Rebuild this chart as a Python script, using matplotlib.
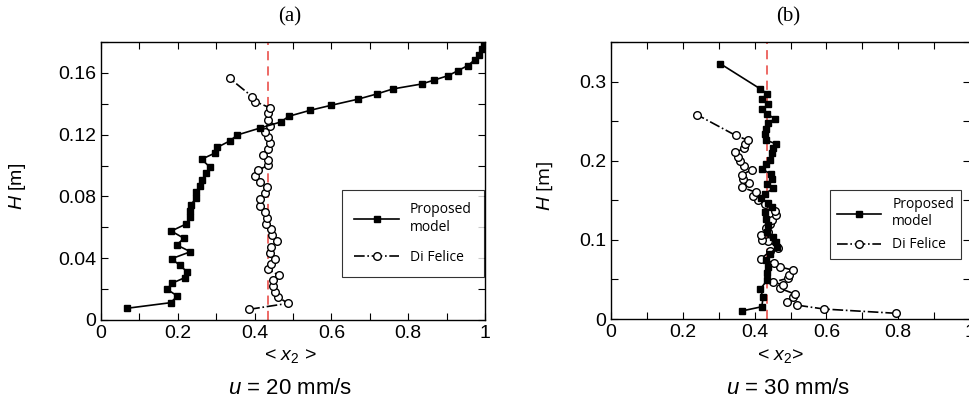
import matplotlib
matplotlib.use("Agg")
import matplotlib.pyplot as plt
from matplotlib import font_manager
import numpy as np

# panel (a): u = 20 mm/s
a_model_x = [0.068, 0.181, 0.199, 0.172, 0.185, 0.218, 0.224, 0.205, 0.184, 0.233, 0.197, 0.216,
             0.183, 0.222, 0.231, 0.233, 0.234, 0.248, 0.247, 0.257, 0.263, 0.274, 0.283, 0.262,
             0.296, 0.303, 0.335, 0.355, 0.413, 0.468, 0.489, 0.545, 0.599, 0.668, 0.719, 0.760,
             0.835, 0.868, 0.904, 0.930, 0.955, 0.973, 0.985, 0.993, 0.997]
a_model_h = [0.0076, 0.0112, 0.0155, 0.0199, 0.0238, 0.0274, 0.0313, 0.0354, 0.0397, 0.0442,
             0.0486, 0.0529, 0.0576, 0.0622, 0.0667, 0.0706, 0.0747, 0.0790, 0.0829, 0.0868,
             0.0907, 0.0954, 0.0991, 0.1041, 0.1080, 0.1118, 0.1159, 0.1198, 0.1242, 0.1282,
             0.1319, 0.1358, 0.1390, 0.1429, 0.1464, 0.1496, 0.1528, 0.1554, 0.1582, 0.1615,
             0.1647, 0.1684, 0.1716, 0.1755, 0.1786]
a_felice_x = [0.386, 0.487, 0.462, 0.453, 0.449, 0.447, 0.463, 0.436, 0.442, 0.453, 0.439, 0.444,
              0.459, 0.446, 0.442, 0.430, 0.431, 0.426, 0.415, 0.413, 0.428, 0.433, 0.413, 0.401,
              0.409, 0.436, 0.435, 0.421, 0.435, 0.439, 0.436, 0.426, 0.441, 0.436, 0.436, 0.439,
              0.402, 0.394, 0.335]
a_felice_h = [0.0069, 0.0108, 0.0147, 0.0179, 0.0220, 0.0259, 0.0289, 0.0328, 0.0365, 0.0397,
              0.0436, 0.0475, 0.0510, 0.0551, 0.0587, 0.0624, 0.0663, 0.0699, 0.0740, 0.0782,
              0.0820, 0.0859, 0.0896, 0.0935, 0.0971, 0.1002, 0.1036, 0.1069, 0.1110, 0.1149,
              0.1183, 0.1220, 0.1258, 0.1295, 0.1339, 0.1375, 0.1414, 0.1446, 0.1565]

# panel (b): u = 30 mm/s
b_model_x = [0.364, 0.420, 0.424, 0.415, 0.435, 0.434, 0.438, 0.432, 0.443, 0.463, 0.460, 0.450,
             0.435, 0.438, 0.432, 0.429, 0.448, 0.438, 0.418, 0.429, 0.452, 0.434, 0.448, 0.445,
             0.420, 0.432, 0.443, 0.448, 0.452, 0.461, 0.432, 0.429, 0.432, 0.436, 0.457, 0.435,
             0.422, 0.438, 0.422, 0.435, 0.415, 0.305]
b_model_h = [0.0101, 0.0155, 0.0281, 0.0373, 0.0491, 0.0575, 0.0658, 0.0742, 0.0826, 0.0909,
             0.0972, 0.1035, 0.1098, 0.1182, 0.1266, 0.1350, 0.1413, 0.1463, 0.1526, 0.1581,
             0.1652, 0.1707, 0.1770, 0.1833, 0.1895, 0.1958, 0.2009, 0.2092, 0.2160, 0.2210,
             0.2260, 0.2336, 0.2399, 0.2482, 0.2524, 0.2595, 0.2650, 0.2713, 0.2784, 0.2847,
             0.2910, 0.3224]
b_felice_x = [0.794, 0.593, 0.517, 0.490, 0.508, 0.513, 0.471, 0.480, 0.452, 0.492, 0.496, 0.508,
              0.471, 0.455, 0.418, 0.443, 0.464, 0.438, 0.420, 0.418, 0.436, 0.431, 0.443, 0.448,
              0.459, 0.457, 0.429, 0.410, 0.396, 0.405, 0.364, 0.384, 0.367, 0.364, 0.392, 0.371,
              0.359, 0.353, 0.345, 0.371, 0.373, 0.381, 0.347, 0.240]
b_felice_h = [0.0072, 0.0126, 0.0176, 0.0218, 0.0273, 0.0314, 0.0386, 0.0428, 0.0469, 0.0512,
              0.0562, 0.0616, 0.0658, 0.0708, 0.0763, 0.0855, 0.0897, 0.0990, 0.1003, 0.1057,
              0.1098, 0.1153, 0.1204, 0.1254, 0.1308, 0.1362, 0.1455, 0.1506, 0.1560, 0.1600,
              0.1664, 0.1715, 0.1770, 0.1824, 0.1883, 0.1937, 0.1991, 0.2050, 0.2105, 0.2155,
              0.2210, 0.2260, 0.2320, 0.2580]

mean_x2 = 0.434

names = {f.name for f in font_manager.fontManager.ttflist}
narrow = "Liberation Sans Narrow" if "Liberation Sans Narrow" in names else "Liberation Sans"
plt.rcParams["font.family"] = ["Liberation Sans", "DejaVu Sans"]
plt.rcParams["mathtext.fontset"] = "custom"
plt.rcParams["mathtext.it"] = narrow + ":italic"
plt.rcParams["mathtext.rm"] = narrow

fig = plt.figure(figsize=(9.69, 4.08), dpi=100)
ax_a = fig.add_axes([101 / 969, 1 - 320 / 408, 384 / 969, 278 / 408])
ax_b = fig.add_axes([611 / 969, 1 - 319 / 408, 359 / 969, 277 / 408])


def style_axes(ax, ymax, ystep, yminor, tick_font):
    ax.set_xlim(0, 1)
    ax.set_ylim(0, ymax)
    ax.set_xticks(np.arange(0, 1.01, 0.2))
    ax.set_xticks(np.arange(0, 1.01, 0.1), minor=True)
    ax.set_yticks(np.arange(0, ymax + 1e-9, ystep))
    ax.set_yticks(np.arange(0, ymax + 1e-9, yminor), minor=True)
    ax.set_xticklabels([f"{v:g}" for v in np.arange(0, 1.01, 0.2)])
    ax.set_yticklabels([f"{v:g}" for v in np.arange(0, ymax + 1e-9, ystep)])
    ax.tick_params(which="both", direction="in", top=True, right=True, length=5, width=0.8)
    for lab in ax.get_xticklabels() + ax.get_yticklabels():
        lab.set_family(tick_font)
        lab.set_fontsize(14)
    for sp in ax.spines.values():
        sp.set_linewidth(1.0)


def draw(ax, mx, mh, fx, fh):
    ax.axvline(mean_x2, color="#e8413c", lw=1.1, dashes=(6, 4), zorder=1)
    ax.plot(mx, mh, color="black", lw=1.2, marker="s", ms=4.2, mfc="black", mec="black",
            label="Proposed\nmodel", zorder=3)
    ax.plot(fx, fh, color="black", lw=1.2, ls="-.", marker="o", ms=5.5, mfc="white",
            mec="black", mew=1.0, label="Di Felice", zorder=2)


draw(ax_a, a_model_x, a_model_h, a_felice_x, a_felice_h)
draw(ax_b, b_model_x, b_model_h, b_felice_x, b_felice_h)
style_axes(ax_a, 0.18, 0.04, 0.02, narrow)
style_axes(ax_b, 0.35, 0.1, 0.05, "Liberation Sans")

leg_a = ax_a.legend(loc="upper left", bbox_to_anchor=(0.609, 0.493), frameon=True, fancybox=False,
                    edgecolor="black", handlelength=3.2, borderpad=0.9, labelspacing=1.1,
                    prop={"family": "Open Sans", "size": 10})
leg_a.get_frame().set_linewidth(0.8)
leg_b = ax_b.legend(loc="upper left", bbox_to_anchor=(0.59, 0.491), frameon=True, fancybox=False,
                    edgecolor="black", handlelength=3.2, borderpad=0.5, labelspacing=0.6,
                    prop={"family": "Open Sans", "size": 10})
leg_b.get_frame().set_linewidth(0.8)

fig.text(290 / 969, 1 - 17 / 408, "(a)", ha="center", va="center",
         family=["Liberation Serif", "DejaVu Serif"], fontsize=15)
fig.text(788 / 969, 1 - 17 / 408, "(b)", ha="center", va="center",
         family=["Liberation Serif", "DejaVu Serif"], fontsize=15)

fig.text(290 / 969, 1 - 356 / 408, r"< $\mathit{x}_2$ >", ha="center", va="center",
         family=narrow, fontsize=14)
fig.text(781 / 969, 1 - 356 / 408, r"< $\mathit{x}_2$>", ha="center", va="center",
         family=narrow, fontsize=14)

fig.text(290 / 969, 1 - 388 / 408, r"$\mathit{u}$ = 20 mm/s", ha="center", va="center",
         family=narrow, fontsize=16)
fig.text(788 / 969, 1 - 388 / 408, r"$\mathit{u}$ = 30 mm/s", ha="center", va="center",
         family=narrow, fontsize=16)

fig.text(18 / 969, 1 - 186 / 408, r"$\mathit{H}$ [m]", rotation=90, ha="center", va="center",
         fontsize=14)
fig.text(545 / 969, 1 - 186 / 408, r"$\mathit{H}$ [m]", rotation=90, ha="center", va="center",
         fontsize=14, family="Open Sans")

fig.savefig("out.png", dpi=100)
